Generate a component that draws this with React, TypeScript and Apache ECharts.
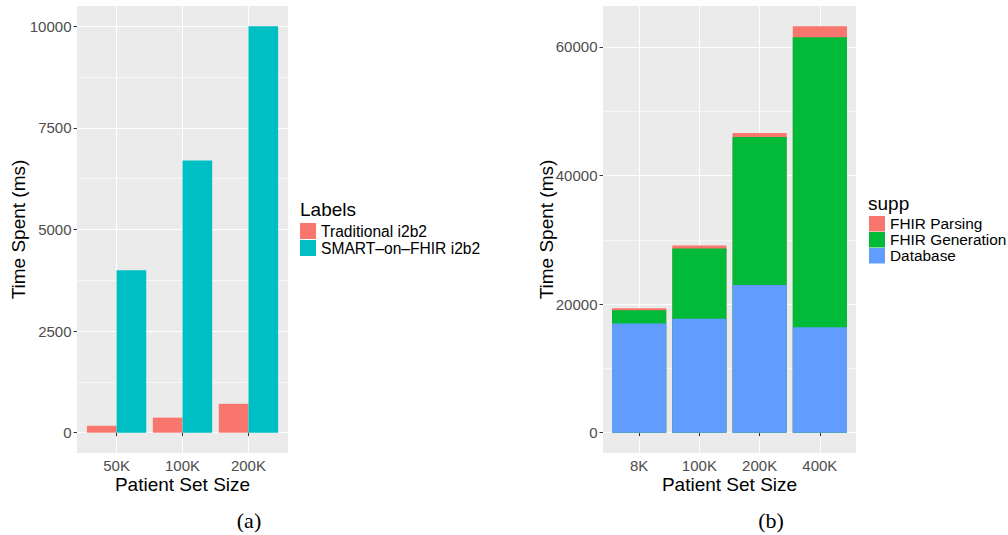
import React, { useEffect, useRef } from "react";
import * as echarts from "echarts";

// ---- Data ----
const leftCategories = ["50K", "100K", "200K"];
const traditionalValues = [170, 370, 710];
const smartValues = [4000, 6700, 10000];
const leftMajorTicks = [0, 2500, 5000, 7500, 10000];
const leftMinorTicks = [1250, 3750, 6250, 8750];

const rightCategories = ["8K", "100K", "200K", "400K"];
const databaseValues = [17000, 17700, 22950, 16400];
const generationValues = [2050, 10950, 23050, 45100];
const parsingValues = [300, 450, 600, 1700];
const rightMajorTicks = [0, 20000, 40000, 60000];
const rightMinorTicks = [10000, 30000, 50000];

const leftSeriesNames = ["Traditional i2b2", "SMART\u2013on\u2013FHIR i2b2"];
const rightSeriesNames = ["FHIR Parsing", "FHIR Generation", "Database"];

const FONT = "'Liberation Sans', Arial, Helvetica, sans-serif";
const SERIF = "'Liberation Serif', 'Times New Roman', serif";

function pairs(values: number[]) {
  return values.map((v, i) => [i + 1, v]);
}

export default function App() {
  const ref = useRef<HTMLDivElement>(null);

  useEffect(() => {
    if (!ref.current) return;
    const chart = echarts.init(ref.current, undefined, { renderer: "svg" });

    const leftMax = Math.max(...smartValues, ...traditionalValues);
    // stacked tops (cumulative), bottom to top: Database, Generation, Parsing
    const dbTop = databaseValues.slice();
    const genTop = databaseValues.map((d, i) => d + generationValues[i]);
    const parseTop = genTop.map((g, i) => g + parsingValues[i]);
    const rightMax = Math.max(...parseTop);

    const majorSplit = { show: true, lineStyle: { color: "#FFFFFF", width: 1.1 } };
    const minorSplit = { show: true, lineStyle: { color: "#FFFFFF", width: 0.55 } };
    const tickStyle = { length: 3.5, lineStyle: { color: "#333333", width: 1 } };
    const labelStyle = { color: "#4D4D4D", fontSize: 15, lineHeight: 14, fontFamily: FONT, margin: 5.5 };
    const nameStyle = { color: "#000000", fontSize: 19, lineHeight: 18, fontFamily: FONT };

    const xAxisFor = (gridIndex: number, cats: string[]) => {
      const positions = cats.map((_, i) => i + 1);
      return {
        type: "value",
        gridIndex,
        min: 0.4,
        max: cats.length + 0.6,
        axisLine: { show: false },
        axisTick: { show: true, customValues: positions, ...tickStyle },
        axisLabel: {
          ...labelStyle,
          margin: 5,
          customValues: positions,
          formatter: (v: number) => cats[Math.round(v) - 1] ?? "",
        },
        splitLine: majorSplit,
        name: "Patient Set Size",
        nameLocation: "middle",
        nameGap: 22,
        nameMoveOverlap: false,
        nameTextStyle: nameStyle,
      };
    };

    const yMajorFor = (gridIndex: number, min: number, max: number, ticks: number[], gap: number) => ({
      type: "value",
      gridIndex,
      min,
      max,
      position: "left",
      axisLine: { show: false },
      axisTick: { show: true, customValues: ticks, ...tickStyle },
      axisLabel: { ...labelStyle, customValues: ticks, formatter: (v: number) => String(v) },
      splitLine: majorSplit,
      name: "Time Spent (ms)",
      nameLocation: "middle",
      nameRotate: 90,
      nameGap: gap,
      nameMoveOverlap: false,
      nameTextStyle: nameStyle,
    });

    const yMinorFor = (gridIndex: number, min: number, max: number, ticks: number[]) => ({
      type: "value",
      gridIndex,
      min,
      max,
      position: "left",
      axisLine: { show: false },
      axisTick: { show: false, customValues: ticks },
      axisLabel: { show: false },
      splitLine: minorSplit,
    });

    const stackBar = (name: string, values: number[], color: string) => ({
      name, type: "bar", xAxisIndex: 1, yAxisIndex: 2,
      data: pairs(values), barWidth: "90%", barGap: "-100%",
      itemStyle: { color },
    });

    const option: any = {
      animation: false,
      textStyle: { fontFamily: FONT },
      grid: [
        {
          left: 77, top: 6, width: 211, height: 447,
          show: true, backgroundColor: "#EBEBEB", borderWidth: 0,
          containLabel: false, outerBoundsMode: "none",
        },
        {
          left: 603, top: 6, width: 253, height: 447,
          show: true, backgroundColor: "#EBEBEB", borderWidth: 0,
          containLabel: false, outerBoundsMode: "none",
        },
      ],
      xAxis: [xAxisFor(0, leftCategories), xAxisFor(1, rightCategories)],
      yAxis: [
        yMajorFor(0, -0.05 * leftMax, 1.05 * leftMax, leftMajorTicks, 50),
        yMinorFor(0, -0.05 * leftMax, 1.05 * leftMax, leftMinorTicks),
        yMajorFor(1, -0.05 * rightMax, 1.05 * rightMax, rightMajorTicks, 48),
        yMinorFor(1, -0.05 * rightMax, 1.05 * rightMax, rightMinorTicks),
      ],
      legend: [
        {
          orient: "vertical", left: 300, top: 223, padding: 0,
          itemWidth: 16, itemHeight: 16, itemGap: 1, icon: "rect",
          selectedMode: false,
          data: leftSeriesNames,
          textStyle: { fontSize: 15.6, color: "#000000", fontFamily: FONT },
        },
        {
          orient: "vertical", left: 869, top: 216, padding: 0,
          itemWidth: 16, itemHeight: 15.5, itemGap: 0.5, icon: "rect",
          selectedMode: false,
          data: rightSeriesNames,
          textStyle: { fontSize: 15.4, color: "#000000", fontFamily: FONT },
        },
      ],
      graphic: [
        {
          type: "text", x: 300, y: 200,
          style: { text: "Labels", font: `19px ${FONT}`, fill: "#000", textAlign: "left", align: "left", textVerticalAlign: "top", verticalAlign: "top" },
        },
        {
          type: "text", x: 868, y: 194,
          style: { text: "supp", font: `19px ${FONT}`, fill: "#000", textAlign: "left", align: "left", textVerticalAlign: "top", verticalAlign: "top" },
        },
        {
          type: "text", x: 249, y: 520,
          style: { text: "(a)", font: `22px ${SERIF}`, fill: "#000", textAlign: "center", align: "center", textVerticalAlign: "middle", verticalAlign: "middle" },
        },
        {
          type: "text", x: 771, y: 520,
          style: { text: "(b)", font: `22px ${SERIF}`, fill: "#000", textAlign: "center", align: "center", textVerticalAlign: "middle", verticalAlign: "middle" },
        },
      ],
      series: [
        {
          name: leftSeriesNames[0], type: "bar", xAxisIndex: 0, yAxisIndex: 0,
          data: pairs(traditionalValues), barWidth: "45%", barGap: "0%",
          itemStyle: { color: "#F8766D" },
        },
        {
          name: leftSeriesNames[1], type: "bar", xAxisIndex: 0, yAxisIndex: 0,
          data: pairs(smartValues), barWidth: "45%", barGap: "0%",
          itemStyle: { color: "#00BFC4" },
        },
        // drawn back to front: cumulative tops so each segment shows its own share
        stackBar("FHIR Parsing", parseTop, "#F8766D"),
        stackBar("FHIR Generation", genTop, "#00BA38"),
        stackBar("Database", dbTop, "#619CFF"),
      ],
    };

    chart.setOption(option);
    return () => chart.dispose();
  }, []);

  return (
    <div
      ref={ref}
      style={{ position: "absolute", left: 0, top: 0, width: 1008, height: 535, background: "#FFFFFF" }}
    />
  );
}
